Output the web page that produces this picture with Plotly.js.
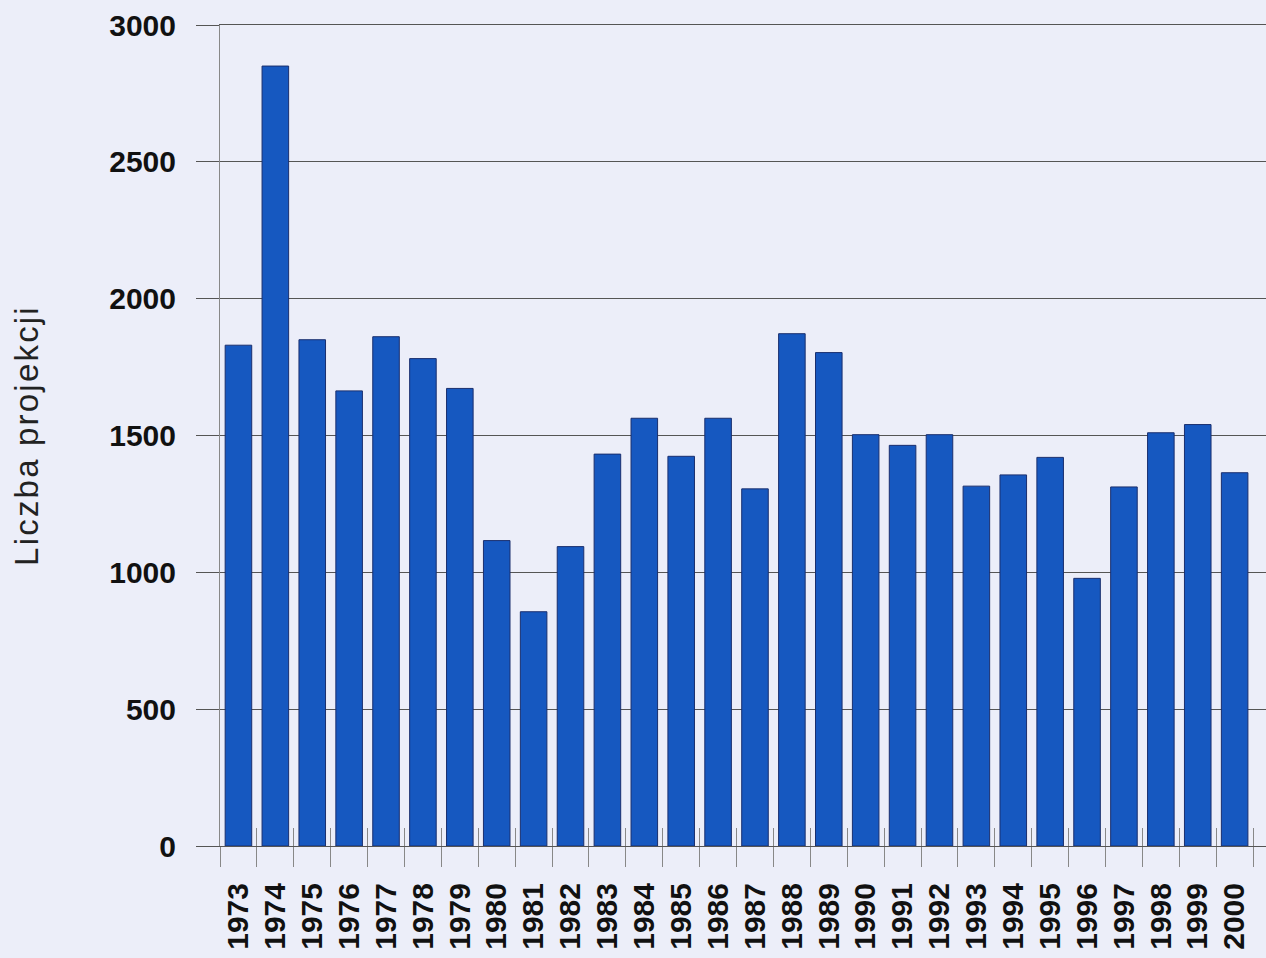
<!DOCTYPE html>
<html>
<head>
<meta charset="utf-8">
<script src="https://cdn.plot.ly/plotly-3.0.1.min.js"></script>
<style>html,body{margin:0;padding:0;background:#eceef9;}#chart{width:1266px;height:958px;}
#chart .ytitle{letter-spacing:2.2px;}</style>
</head>
<body>
<div id="chart"></div>
<script>
const years = ["1973","1974","1975","1976","1977","1978","1979","1980","1981","1982","1983","1984","1985","1986","1987","1988","1989","1990","1991","1992","1993","1994","1995","1996","1997","1998","1999","2000"];
const projections = [1830,2850,1850,1663,1861,1781,1672,1116,856,1094,1432,1563,1424,1563,1305,1872,1803,1503,1464,1503,1315,1356,1420,978,1312,1510,1540,1364];
const yTicks = [0,500,1000,1500,2000,2500,3000];
const yTitle = "Liczba projekcji";

const bg = "#eceef9";
const barColor = "#1658c0";
const lineColor = "#555555";

const traces = [
  {
    type: "bar",
    x: years,
    y: projections,
    marker: {color: barColor, line: {color: "#1a2f6e", width: 1}},
    hoverinfo: "x+y",
    xaxis: "x",
    yaxis: "y"
  },
  {
    type: "scatter",
    mode: "markers",
    x: years,
    y: projections,
    marker: {opacity: 0},
    hoverinfo: "skip",
    showlegend: false,
    xaxis: "x2",
    yaxis: "y"
  }
];

const nCat = years.length;
const xRange = [-0.5, nCat - 0.15];

const layout = {
  width: 1266,
  height: 958,
  paper_bgcolor: bg,
  plot_bgcolor: bg,
  showlegend: false,
  bargap: 0.28,
  margin: {l: 220, r: 0, t: 25, b: 112},
  font: {family: "Liberation Sans, Arial, sans-serif", color: "#111"},
  xaxis: {
    type: "category",
    categoryorder: "array",
    categoryarray: years,
    range: xRange,
    tickson: "boundaries",
    ticks: "outside",
    ticklen: 20,
    tickwidth: 1,
    tickcolor: "#888888",
    tickangle: -90,
    ticklabelstandoff: 24,
    tickfont: {family: "Liberation Sans, Arial, sans-serif", size: 30, color: "#111", weight: "bold"},
    showgrid: false,
    showline: true,
    mirror: true,
    linecolor: lineColor,
    linewidth: 1,
    zeroline: false,
    fixedrange: true
  },
  xaxis2: {
    type: "category",
    categoryorder: "array",
    categoryarray: years,
    range: xRange,
    overlaying: "x",
    anchor: "y",
    side: "bottom",
    tickson: "boundaries",
    ticks: "inside",
    ticklen: 18,
    tickwidth: 1,
    tickcolor: "#888888",
    showticklabels: false,
    showgrid: false,
    showline: false,
    zeroline: false,
    fixedrange: true
  },
  yaxis: {
    range: [0, 3000],
    tickmode: "array",
    tickvals: yTicks,
    ticktext: yTicks.map(String),
    ticks: "outside",
    ticklen: 23,
    tickwidth: 1,
    tickcolor: lineColor,
    ticklabelstandoff: 14,
    tickfont: {family: "Liberation Sans, Arial, sans-serif", size: 30, color: "#111", weight: "bold"},
    showgrid: true,
    gridcolor: lineColor,
    gridwidth: 1,
    showline: true,
    linecolor: "#888888",
    linewidth: 1,
    zeroline: false,
    title: {text: yTitle, font: {family: "Liberation Sans, Arial, sans-serif", size: 33, color: "#222"}, standoff: 60},
    fixedrange: true
  }
};

Plotly.newPlot("chart", traces, layout, {displayModeBar: false, staticPlot: true});
</script>
</body>
</html>
